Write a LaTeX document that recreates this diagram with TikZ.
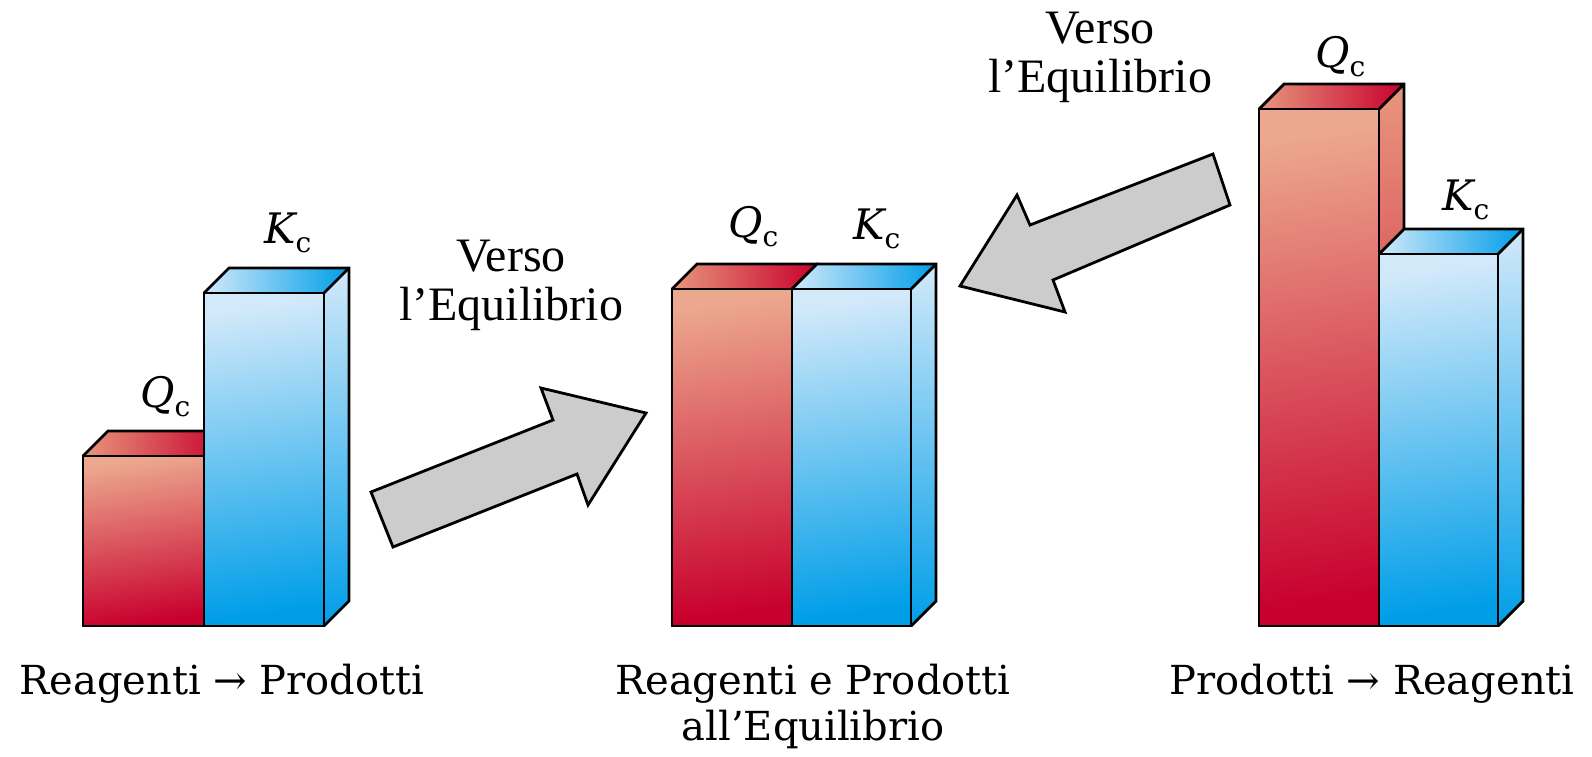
\documentclass[tikz,border=0pt]{standalone}
\usepackage{fontspec}
\setmainfont{DejaVu Serif}
\newfontfamily\versofont{Liberation Serif}
\definecolor{redL}{RGB}{236,168,142}
\definecolor{redM}{RGB}{220,100,80}
\definecolor{redD}{RGB}{200,0,45}
\definecolor{redT}{RGB}{232,150,125}
\definecolor{blueL}{RGB}{210,233,250}
\definecolor{blueM}{RGB}{110,190,242}
\definecolor{blueD}{RGB}{0,158,232}
\definecolor{arrowgray}{RGB}{204,204,204}
\tikzset{
  outline/.style={draw=black, line width=2.8pt, line join=miter},
  bigarrow/.style={fill=arrowgray, draw=black, line width=2.8pt, line join=miter},
  barlabel/.style={inner sep=0pt, anchor=base west, font=\fontsize{42}{49}\selectfont},
  caption/.style={inner sep=0pt, anchor=base, font=\fontsize{40}{46}\selectfont},
  versolabel/.style={inner sep=0pt, anchor=base, font=\versofont\fontsize{48}{49}\selectfont}
}
\newcommand\ybot{626}
% #1 x left, #2 x right, #3 y top, #4 light, #5 middle, #6 dark, #7 top-face light
\newcommand\drawbar[7]{%
  \shade[top color=#4, middle color=#5, bottom color=#6, shading angle=8] (#1,#3) rectangle (#2,\ybot);
  \shade[left color=#7, right color=#6] (#1,#3) -- ++(25,-25) -- (#2+25,#3-25) -- (#2,#3) -- cycle;
  \shade[top color=#7, middle color=#5, bottom color=#6] (#2,#3) -- ++(25,-25) -- (#2+25,\ybot-25) -- (#2,\ybot) -- cycle;
  \draw[outline] (#1,#3) rectangle (#2,\ybot);
  \draw[outline] (#1,#3) -- ++(25,-25) -- (#2+25,#3-25) -- (#2+25,\ybot-25) -- (#2,\ybot);
  \draw[outline] (#2,#3) -- (#2+25,#3-25);
}
\newcommand\Qc{{\itshape Q}\raisebox{-9pt}{\fontsize{28}{28}\selectfont c}}
\newcommand\Kc{{\itshape K}\raisebox{-9pt}{\fontsize{28}{28}\selectfont c}}
\begin{document}
\begin{tikzpicture}[x=1pt,y=-1pt]
\useasboundingbox (0,0) rectangle (1592,756);
% left group
\drawbar{83}{204}{456}{redL}{redM}{redD}{redT}
\drawbar{204}{324}{293}{blueL}{blueM}{blueD}{blueL}
% middle group
\drawbar{672}{792}{289}{redL}{redM}{redD}{redT}
\drawbar{792}{911}{289}{blueL}{blueM}{blueD}{blueL}
% right group
\drawbar{1259}{1379}{109}{redL}{redM}{redD}{redT}
\drawbar{1379}{1498}{254}{blueL}{blueM}{blueD}{blueL}
% arrows
\draw[bigarrow] (371,492) -- (393,547) -- (577,474) -- (588,505) -- (646,413) -- (541,388) -- (553,420) -- cycle;
\draw[bigarrow] (960,286) -- (1017,195) -- (1030,225) -- (1213,154) -- (1230,205) -- (1053,280) -- (1065,312) -- cycle;
% bar labels
\node[barlabel] (qleft) at (140,407) {\Qc};
\node[barlabel] (kleft) at (264,243) {\Kc};
\node[barlabel] (qmid) at (728,237) {\Qc};
\node[barlabel] (kmid) at (853,239) {\Kc};
\node[barlabel] (qright) at (1315,67) {\Qc};
\node[barlabel] (kright) at (1442,210) {\Kc};
% verso labels
\node[versolabel] (vmid1) at (511,271) {Verso};
\node[versolabel] (vmid2) at (511,320) {l’Equilibrio};
\node[versolabel] (vright1) at (1100,43) {Verso};
\node[versolabel] (vright2) at (1100,92) {l’Equilibrio};
% captions
\node[caption] (cleft) at (222,694) {Reagenti → Prodotti};
\node[caption] (cmid1) at (813,694) {Reagenti e Prodotti};
\node[caption] (cmid2) at (813,740) {all’Equilibrio};
\node[caption] (cright) at (1372,694) {Prodotti → Reagenti};
\end{tikzpicture}
\end{document}
